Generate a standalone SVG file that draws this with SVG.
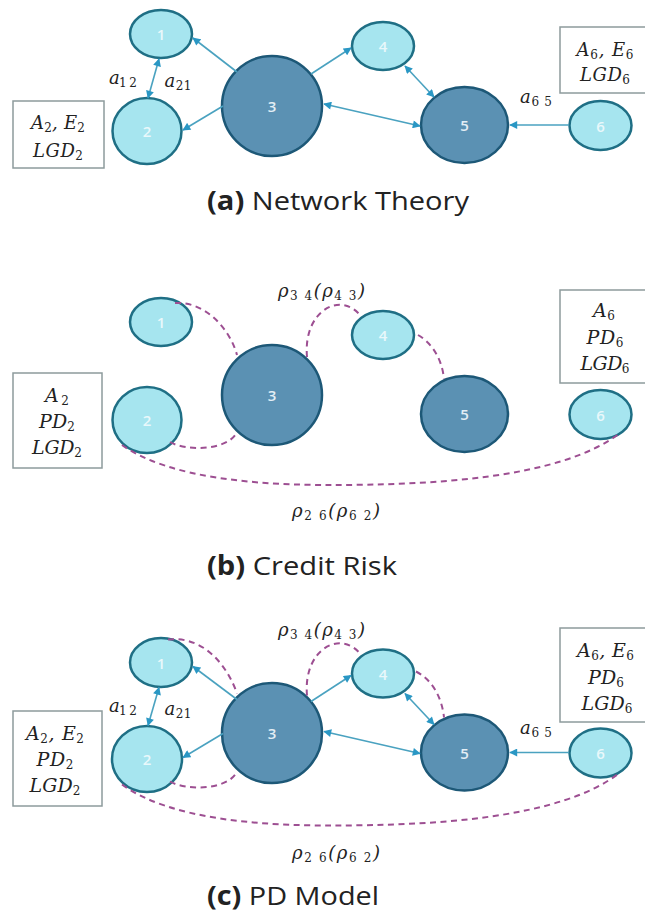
<svg xmlns="http://www.w3.org/2000/svg" width="645" height="913" viewBox="0 0 645 913">
<defs>
<marker id="ah" viewBox="0 0 10 10" refX="9" refY="5" markerWidth="9" markerHeight="8" orient="auto-start-reverse" markerUnits="userSpaceOnUse"><path d="M0,0 L10,5 L0,10 z" fill="#2a97c4"/></marker>
</defs>
<style>
.light{fill:#a6e5ef;stroke:#1f6f85;stroke-width:2.5}
.dark{fill:#5b91b3;stroke:#1d5877;stroke-width:2.5}
.num{font-family:"Open Sans","Liberation Sans",sans-serif;font-size:15px;font-weight:600;text-anchor:middle;dominant-baseline:central}
.numl{fill:#e9f8fb}
.numd{fill:#e3eef5}
.arr{stroke:#4aa2c0;stroke-width:1.6;fill:none}
.one{marker-end:url(#ah)}
.two{marker-start:url(#ah);marker-end:url(#ah)}
.dash{stroke:#9d4f92;stroke-width:2;fill:none;stroke-dasharray:6 4.5}
.box{fill:#fff;stroke:#8d9b9c;stroke-width:1.5}
.m{font-family:"DejaVu Serif","Liberation Serif",serif;font-style:italic;font-size:18px;fill:#222;text-anchor:middle}
.mb{font-size:19px}
.s{font-style:normal;font-size:12px}
.cap{font-family:"Open Sans","Liberation Sans",sans-serif;font-size:26px;fill:#222}
</style>

<!-- ===== Panel (a) ===== -->
<g id="panel-a">
  <g id="a-node1"><ellipse class="light" cx="161" cy="34" rx="31" ry="24"/><text class="num numl" x="161" y="34">1</text></g>
  <g id="a-node2"><ellipse class="light" cx="147" cy="131" rx="34.5" ry="33"/><text class="num numl" x="147" y="131">2</text></g>
  <g id="a-node3"><ellipse class="dark" cx="272" cy="106" rx="50" ry="50"/><text class="num numd" x="272" y="106">3</text></g>
  <g id="a-node4"><ellipse class="light" cx="383" cy="46" rx="31" ry="24"/><text class="num numl" x="383" y="46">4</text></g>
  <g id="a-node5"><ellipse class="dark" cx="464.5" cy="125" rx="43.5" ry="38"/><text class="num numd" x="464.5" y="125">5</text></g>
  <g id="a-node6"><ellipse class="light" cx="600.5" cy="125.5" rx="31" ry="24.5"/><text class="num numl" x="600.5" y="125.5">6</text></g>
  <g id="a-box2"><rect class="box" x="13" y="101" width="91" height="67"/>
    <text class="m" x="58" y="129" textLength="54">A<tspan class="s" dy="3">2</tspan><tspan dy="-3">, E</tspan><tspan class="s" dy="3">2</tspan></text>
    <text class="m" x="58" y="157" textLength="50">LGD<tspan class="s" dy="3">2</tspan></text></g>
  <g id="a-box6"><rect class="box" x="560" y="27" width="90" height="66"/>
    <text class="m" x="605" y="56" textLength="57">A<tspan class="s" dy="3">6</tspan><tspan dy="-3">, E</tspan><tspan class="s" dy="3">6</tspan></text>
    <text class="m" x="605" y="81" textLength="50">LGD<tspan class="s" dy="3">6</tspan></text></g>
  <g id="a-connectors">
    <path class="arr two" d="M159,59 L148,98"/>
    <path class="arr one" d="M237,72 L193,38"/>
    <path class="arr one" d="M223,106 L183,130"/>
    <path class="arr one" d="M311,74 L351,48"/>
    <path class="arr two" d="M405,66 L434,97"/>
    <path class="arr two" d="M324,104 L420,126"/>
    <path class="arr one" d="M569,125 L510,125"/>
    <text class="m" x="123" y="84" textLength="28">a<tspan class="s" dy="3">1 2</tspan></text>
    <text class="m" x="178" y="87" textLength="27">a<tspan class="s" dy="3">21</tspan></text>
    <text class="m" x="536" y="103" textLength="32">a<tspan class="s" dy="3">6 5</tspan></text>
  </g>
  <text class="cap" x="207" y="210" textLength="262" lengthAdjust="spacingAndGlyphs"><tspan font-weight="700">(a)</tspan> Network Theory</text>
</g>

<!-- ===== Panel (b) ===== -->
<g id="panel-b" transform="translate(0,289)">
  <g id="b-node1"><ellipse class="light" cx="161" cy="33" rx="31" ry="24"/><text class="num numl" x="161" y="33">1</text></g>
  <g id="b-node2"><ellipse class="light" cx="147" cy="131" rx="34.5" ry="33"/><text class="num numl" x="147" y="131">2</text></g>
  <g id="b-node3"><ellipse class="dark" cx="272" cy="106" rx="50" ry="50"/><text class="num numd" x="272" y="106">3</text></g>
  <g id="b-node4"><ellipse class="light" cx="383" cy="46" rx="31" ry="24"/><text class="num numl" x="383" y="46">4</text></g>
  <g id="b-node5"><ellipse class="dark" cx="464.5" cy="125" rx="43.5" ry="38"/><text class="num numd" x="464.5" y="125">5</text></g>
  <g id="b-node6"><ellipse class="light" cx="600.5" cy="125.5" rx="31" ry="24.5"/><text class="num numl" x="600.5" y="125.5">6</text></g>
  <g id="b-box2"><rect class="box" x="13" y="84" width="89" height="95"/>
    <text class="m mb" x="57" y="113" textLength="24">A<tspan class="s" dy="3">2</tspan></text>
    <text class="m mb" x="57" y="139" textLength="36">PD<tspan class="s" dy="3">2</tspan></text>
    <text class="m mb" x="57" y="165" textLength="50">LGD<tspan class="s" dy="3">2</tspan></text></g>
  <g id="b-box6"><rect class="box" x="560" y="1" width="90" height="93"/>
    <text class="m mb" x="604" y="28" textLength="22">A<tspan class="s" dy="3">6</tspan></text>
    <text class="m mb" x="605" y="55" textLength="37">PD<tspan class="s" dy="3">6</tspan></text>
    <text class="m mb" x="605" y="81" textLength="49">LGD<tspan class="s" dy="3">6</tspan></text></g>
  <g id="b-connectors">
    <path class="dash" d="M175,14 C205,12 230,40 237,66"/>
    <path class="dash" d="M307,68 C303,22 340,2 360,26"/>
    <path class="dash" d="M418,46 C432,54 442,70 444,90"/>
    <path class="dash" d="M170,153 C185,162 225,162 236,145"/>
    <path class="dash" d="M122,156 C170,190 260,196 330,196 C430,196 560,190 620,144"/>
    <text class="m" x="321.5" y="8" textLength="87">ρ<tspan class="s" dy="3">3 4</tspan><tspan dy="-3">(ρ</tspan><tspan class="s" dy="3">4 3</tspan><tspan dy="-3">)</tspan></text>
    <text class="m" x="336" y="228" textLength="88">ρ<tspan class="s" dy="3">2 6</tspan><tspan dy="-3">(ρ</tspan><tspan class="s" dy="3">6 2</tspan><tspan dy="-3">)</tspan></text>
  </g>
  <text class="cap" x="207" y="286" textLength="190" lengthAdjust="spacingAndGlyphs"><tspan font-weight="700">(b)</tspan> Credit Risk</text>
</g>

<!-- ===== Panel (c) ===== -->
<g id="panel-c" transform="translate(0,627.5)">
  <g id="c-node1"><ellipse class="light" cx="161" cy="35" rx="31" ry="24.5"/><text class="num numl" x="161" y="35">1</text></g>
  <g id="c-node2"><ellipse class="light" cx="147" cy="131.5" rx="35" ry="33"/><text class="num numl" x="147" y="131.5">2</text></g>
  <g id="c-node3"><ellipse class="dark" cx="272" cy="105.5" rx="50" ry="50"/><text class="num numd" x="272" y="105.5">3</text></g>
  <g id="c-node4"><ellipse class="light" cx="383" cy="46" rx="31" ry="24"/><text class="num numl" x="383" y="46">4</text></g>
  <g id="c-node5"><ellipse class="dark" cx="464.5" cy="125" rx="43.5" ry="38"/><text class="num numd" x="464.5" y="125">5</text></g>
  <g id="c-node6"><ellipse class="light" cx="600.5" cy="125.5" rx="31" ry="24.5"/><text class="num numl" x="600.5" y="125.5">6</text></g>
  <g id="c-box2"><rect class="box" x="13" y="83.5" width="89" height="95"/>
    <text class="m mb" x="55" y="112.5" textLength="58">A<tspan class="s" dy="3">2</tspan><tspan dy="-3">, E</tspan><tspan class="s" dy="3">2</tspan></text>
    <text class="m mb" x="55" y="138" textLength="37">PD<tspan class="s" dy="3">2</tspan></text>
    <text class="m mb" x="55" y="164" textLength="51">LGD<tspan class="s" dy="3">2</tspan></text></g>
  <g id="c-box6"><rect class="box" x="560" y="0.5" width="90" height="94"/>
    <text class="m mb" x="605.5" y="29.5" textLength="57">A<tspan class="s" dy="3">6</tspan><tspan dy="-3">, E</tspan><tspan class="s" dy="3">6</tspan></text>
    <text class="m mb" x="606" y="56" textLength="36">PD<tspan class="s" dy="3">6</tspan></text>
    <text class="m mb" x="607" y="82.5" textLength="51">LGD<tspan class="s" dy="3">6</tspan></text></g>
  <g id="c-connectors">
    <path class="arr two" d="M159,60 L148,98"/>
    <path class="arr one" d="M237,72 L193,39"/>
    <path class="arr one" d="M223,106 L183,130"/>
    <path class="arr one" d="M311,74 L351,48"/>
    <path class="arr two" d="M405,66 L434,97"/>
    <path class="arr two" d="M324,104 L420,126"/>
    <path class="arr one" d="M569,125 L510,125"/>
    <path class="dash" d="M168,12 C205,8 228,40 237,66"/>
    <path class="dash" d="M307,68 C303,22 340,2 360,26"/>
    <path class="dash" d="M416,44 C432,52 442,70 444,90"/>
    <path class="dash" d="M170,154 C185,163 225,163 236,146"/>
    <path class="dash" d="M122,157 C170,192 260,198 330,198 C430,198 560,192 620,145"/>
    <text class="m" x="123" y="84" textLength="28">a<tspan class="s" dy="3">1 2</tspan></text>
    <text class="m" x="178" y="87" textLength="27">a<tspan class="s" dy="3">21</tspan></text>
    <text class="m" x="536" y="106" textLength="32">a<tspan class="s" dy="3">6 5</tspan></text>
    <text class="m" x="321.5" y="8" textLength="87">ρ<tspan class="s" dy="3">3 4</tspan><tspan dy="-3">(ρ</tspan><tspan class="s" dy="3">4 3</tspan><tspan dy="-3">)</tspan></text>
    <text class="m" x="336" y="231" textLength="88">ρ<tspan class="s" dy="3">2 6</tspan><tspan dy="-3">(ρ</tspan><tspan class="s" dy="3">6 2</tspan><tspan dy="-3">)</tspan></text>
  </g>
  <text class="cap" x="207" y="277" textLength="172" lengthAdjust="spacingAndGlyphs"><tspan font-weight="700">(c)</tspan> PD Model</text>
</g>
</svg>
